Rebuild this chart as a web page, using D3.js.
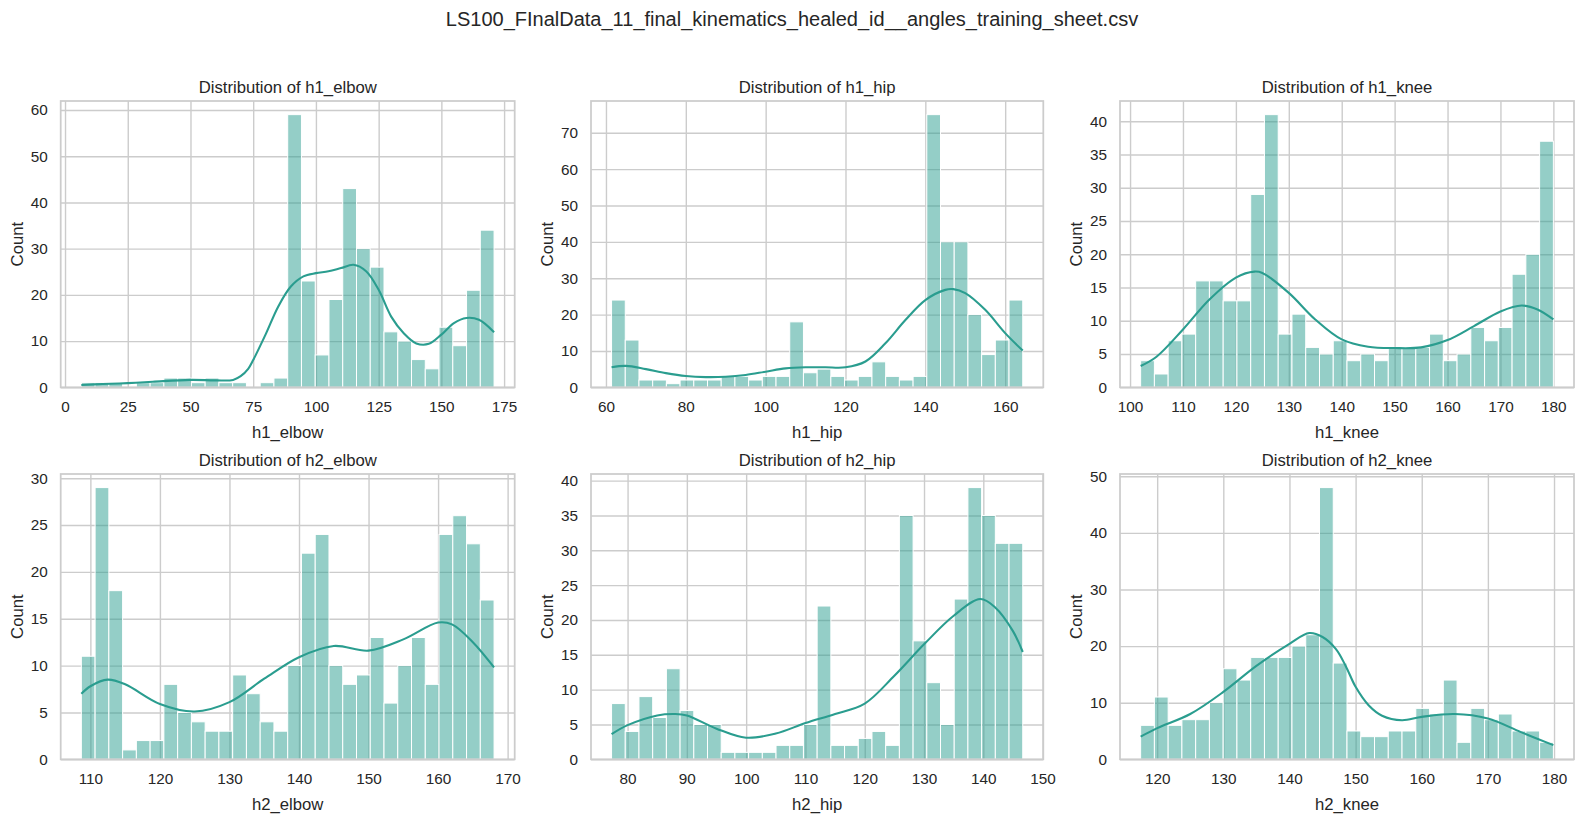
<!DOCTYPE html>
<html lang="en">

<head>
    <meta charset="UTF-8">
    <title>Angle distributions</title>
    <script src="https://cdn.jsdelivr.net/npm/d3@7"></script>
    <style>
        body {
            margin: 0;
            background: #fff;
            font-family: "Liberation Sans", Arial, sans-serif;
        }

        text {
            fill: #262626;
        }
    </style>
</head>

<body>
    <div id="chart"></div>
    <script>
        // ---- data ----
        const figTitle = "LS100_FInalData_11_final_kinematics_healed_id__angles_training_sheet.csv";
        const variables = ["h1_elbow", "h1_hip", "h1_knee", "h2_elbow", "h2_hip", "h2_knee"];

        // first and last bin edge of each histogram (30 bins each)
        const binRanges = [[6.5, 171], [61.4, 164.4], [102, 180], [108.7, 168.05], [77.3, 146.65], [117.5, 179.9]];

        const counts_h1_elbow = [1, 1, 1, 0, 1, 1, 2, 2, 1, 2, 1, 1, 0, 1, 2, 59, 23, 7, 19, 43, 30, 26, 12, 10, 6, 4, 13, 9, 21, 34];
        const counts_h1_hip = [24, 13, 2, 2, 1, 2, 2, 2, 3, 3, 2, 3, 3, 18, 4, 5, 3, 2, 3, 7, 3, 2, 3, 75, 40, 40, 20, 9, 13, 24];
        const counts_h1_knee = [4, 2, 7, 8, 16, 16, 13, 13, 29, 41, 8, 11, 6, 5, 7, 4, 5, 4, 6, 6, 6, 8, 4, 5, 9, 7, 9, 17, 20, 37];
        const counts_h2_elbow = [11, 29, 18, 1, 2, 2, 8, 5, 4, 3, 3, 9, 7, 4, 3, 10, 22, 24, 10, 8, 9, 13, 6, 10, 13, 8, 24, 26, 23, 17];
        const counts_h2_hip = [8, 4, 9, 6, 13, 7, 5, 5, 1, 1, 1, 1, 2, 2, 5, 22, 2, 2, 3, 4, 2, 35, 17, 11, 5, 23, 39, 35, 31, 31];
        const counts_h2_knee = [6, 11, 6, 7, 7, 10, 16, 14, 18, 18, 18, 20, 22, 48, 17, 5, 4, 4, 5, 5, 9, 8, 14, 3, 9, 7, 8, 5, 5, 3];

        // kde curves, [angle, count]
        const kde_h1_elbow = [[6.5, 0.5], [15, 0.7], [25, 0.9], [35, 1.2], [50, 1.6], [60, 1.5], [67, 1.6], [70, 2.4], [73, 4], [75, 5.9], [80, 11.5], [85, 17.5], [90, 21.8], [95, 24], [100, 24.7], [105, 25.1], [110, 25.8], [115, 26.5], [120, 25.1], [125, 21.1], [130, 15.3], [135, 11.7], [140, 9.5], [145, 9.4], [150, 11.4], [155, 13.9], [160, 15], [165, 14.6], [171, 11.9]];
        const kde_h1_hip = [[61.4, 5.5], [65, 5.9], [70, 5], [75, 3.9], [80, 3.1], [85, 2.8], [90, 2.9], [95, 3.4], [100, 4.3], [105, 5.2], [110, 5.5], [115, 5.5], [120, 5.5], [125, 7.1], [130, 12.1], [135, 18.5], [140, 24], [145, 26.8], [147, 27], [150, 25.9], [155, 21.3], [160, 14.9], [164.4, 10.1]];
        const kde_h1_knee = [[102, 3.2], [105, 4.6], [110, 8.7], [115, 13.2], [120, 16.5], [123.5, 17.4], [125, 17.2], [130, 14.2], [135, 10.2], [140, 7.2], [145, 6.1], [150, 5.9], [155, 6], [160, 7.1], [165, 9.2], [170, 11.4], [174, 12.3], [177, 11.7], [180, 10.2]];
        const kde_h2_elbow = [[108.7, 7], [110, 7.8], [112.5, 8.5], [115, 8], [120, 5.9], [125, 5.1], [130, 6.1], [135, 8.6], [140, 10.9], [145, 12.1], [150, 11.6], [155, 12.8], [160, 14.6], [162, 14.4], [165, 12.5], [168.05, 9.8]];
        const kde_h2_hip = [[77.3, 3.6], [80, 4.9], [85, 6.3], [88, 6.5], [90, 6.3], [95, 4.4], [100, 3.1], [105, 3.7], [110, 5.2], [115, 6.5], [120, 8], [125, 12], [130, 16.5], [135, 20.6], [139.5, 23], [142, 21.8], [145, 18.4], [146.65, 15.4]];
        const kde_h2_knee = [[117.5, 4], [120, 5.5], [125, 8], [130, 11.9], [135, 16.5], [140, 20.4], [143, 22.3], [145, 21.6], [147, 19.5], [148.5, 16.5], [150, 12.8], [152, 9.5], [154, 7.7], [157, 6.9], [160, 7.5], [165, 8], [170, 7.2], [175, 4.8], [179.9, 2.5]];

        // tick labels
        const xTicks = [
            [0, 25, 50, 75, 100, 125, 150, 175],
            [60, 80, 100, 120, 140, 160],
            [100, 110, 120, 130, 140, 150, 160, 170, 180],
            [110, 120, 130, 140, 150, 160, 170],
            [80, 90, 100, 110, 120, 130, 140, 150],
            [120, 130, 140, 150, 160, 170, 180]
        ];
        const yTicks = [
            [0, 10, 20, 30, 40, 50, 60],
            [0, 10, 20, 30, 40, 50, 60, 70],
            [0, 5, 10, 15, 20, 25, 30, 35, 40],
            [0, 5, 10, 15, 20, 25, 30],
            [0, 5, 10, 15, 20, 25, 30, 35, 40],
            [0, 10, 20, 30, 40, 50]
        ];

        const allCounts = [counts_h1_elbow, counts_h1_hip, counts_h1_knee, counts_h2_elbow, counts_h2_hip, counts_h2_knee];
        const allKde = [kde_h1_elbow, kde_h1_hip, kde_h1_knee, kde_h2_elbow, kde_h2_hip, kde_h2_knee];

        // ---- layout ----
        const width = 1584, height = 818;
        const colLeft = [60.7, 591, 1120], colRight = [514.7, 1043.3, 1574];
        const rowTop = [101, 474], rowBottom = [387.3, 759.3];
        const color = "#2a9d8f";
        const gridColor = "#cccccc";

        const svg = d3.select("#chart").append("svg")
            .attr("width", width)
            .attr("height", height)
            .style("display", "block");

        svg.append("text")
            .attr("x", width / 2)
            .attr("y", 25.5)
            .attr("text-anchor", "middle")
            .attr("font-size", 20)
            .text(figTitle);

        variables.forEach((name, i) => {
            const left = colLeft[i % 3], right = colRight[i % 3];
            const top = rowTop[Math.floor(i / 3)], bottom = rowBottom[Math.floor(i / 3)];
            const counts = allCounts[i], kde = allKde[i];
            const [lo, hi] = binRanges[i];
            const binW = (hi - lo) / counts.length;
            const pad = (hi - lo) * 0.05;

            const x = d3.scaleLinear().domain([lo - pad, hi + pad]).range([left, right]);
            const yMax = Math.max(d3.max(counts), d3.max(kde, d => d[1])) * 1.05;
            const y = d3.scaleLinear().domain([0, yMax]).range([bottom, top]);

            const g = svg.append("g");

            // grid + tick labels
            const gx = g.append("g")
                .attr("transform", `translate(0,${bottom})`)
                .call(d3.axisBottom(x).tickValues(xTicks[i]).tickSize(-(bottom - top)).tickPadding(14).tickFormat(d3.format("d")));
            const gy = g.append("g")
                .attr("transform", `translate(${left},0)`)
                .call(d3.axisLeft(y).tickValues(yTicks[i]).tickSize(-(right - left)).tickPadding(13).tickFormat(d3.format("d")));
            [gx, gy].forEach(a => {
                a.select(".domain").remove();
                a.selectAll(".tick line").attr("stroke", gridColor).attr("stroke-width", 1.4);
                a.selectAll(".tick text")
                    .attr("font-size", 15.3)
                    .attr("font-family", "Liberation Sans, Arial, sans-serif")
                    .attr("fill", "#262626");
            });

            // bars
            g.append("g")
                .selectAll("rect")
                .data(counts.map((c, k) => ({ x0: lo + k * binW, x1: lo + (k + 1) * binW, c })).filter(d => d.c > 0))
                .join("rect")
                .attr("x", d => x(d.x0))
                .attr("width", d => x(d.x1) - x(d.x0))
                .attr("y", d => y(d.c))
                .attr("height", d => y(0) - y(d.c))
                .attr("fill", color)
                .attr("fill-opacity", 0.5)
                .attr("stroke", "#fff")
                .attr("stroke-width", 1);

            // kde line
            g.append("path")
                .datum(kde)
                .attr("fill", "none")
                .attr("stroke", color)
                .attr("stroke-width", 2.1)
                .attr("d", d3.line()
                    .x(d => x(d[0]))
                    .y(d => y(d[1]))
                    .curve(d3.curveCatmullRom.alpha(0.5)));

            // spines
            g.append("rect")
                .attr("x", left)
                .attr("y", top)
                .attr("width", right - left)
                .attr("height", bottom - top)
                .attr("fill", "none")
                .attr("stroke", gridColor)
                .attr("stroke-width", 1.75);

            // title and axis labels
            g.append("text")
                .attr("x", (left + right) / 2)
                .attr("y", top - 8)
                .attr("text-anchor", "middle")
                .attr("font-size", 16.7)
                .text(`Distribution of ${name}`);
            g.append("text")
                .attr("x", (left + right) / 2)
                .attr("y", bottom + 50.7)
                .attr("text-anchor", "middle")
                .attr("font-size", 16.7)
                .text(name);
            g.append("text")
                .attr("transform", `translate(${left - 38},${(top + bottom) / 2}) rotate(-90)`)
                .attr("text-anchor", "middle")
                .attr("font-size", 16.7)
                .text("Count");
        });
    </script>
</body>

</html>
